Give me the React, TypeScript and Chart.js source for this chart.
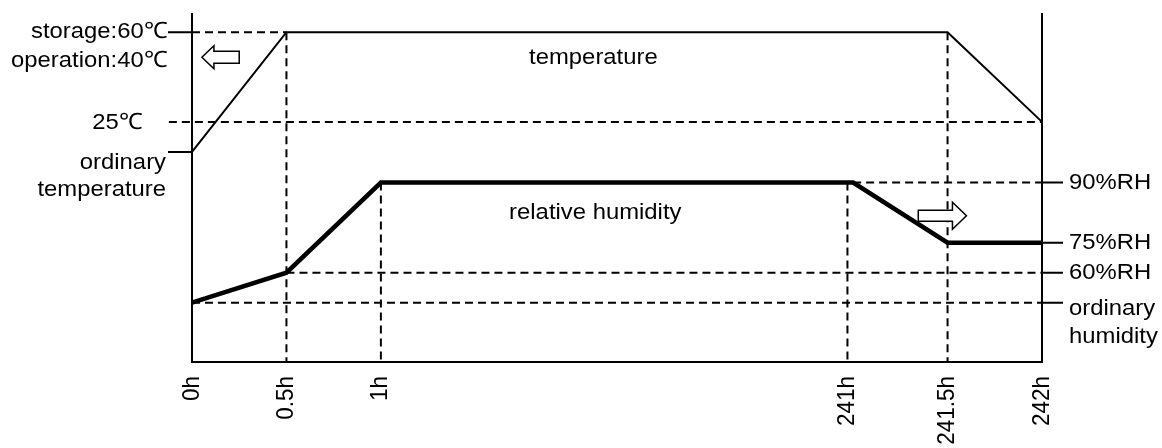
import { useEffect, useRef } from "react";
import { Chart, registerables } from "chart.js";

Chart.register(...registerables);

// ---- data (schematic units: x = time slot, y = relative level 0..100) ----
const timeLabels = ["0h", "0.5h", "1h", "241h", "241.5h", "242h"];
const timeSlots = [0, 1, 2, 6.94, 8, 9];
const temperatureSlots = [0, 1, 2, 7, 8, 9];
const temperatureLevel = [60.2, 94.5, 94.5, 94.5, 94.5, 68.8];
const humiditySlots = [0, 1, 2, 7, 8, 9];
const humidityLevel = [17.0, 25.6, 51.4, 51.4, 34.2, 34.2];

const tempTickValues = [94.5, 68.8, 60.2];
const tempTickLabels = [["storage:60℃", "operation:40℃"], ["25℃"], ["ordinary", "temperature"]];
const humidTickValues = [51.4, 34.2, 25.6, 17.0];
const humidTickLabels = [["90%RH"], ["75%RH"], ["60%RH"], ["ordinary", "humidity"]];

// dashed guides: horizontal [level, fromSlot, toSlot], vertical [slot, fromLevel, toLevel]
const horizontalGuides = [
  [94.5, 0, 1],
  [68.8, -0.245, 9],
  [51.4, 7, 9],
  [25.6, 1, 9],
  [17.0, 0, 9],
];
const verticalGuides = [
  [1, 94.5, 0],
  [2, 51.4, 0],
  [6.94, 51.4, 0],
  [8, 94.5, 0],
];

const FONT = "22.5px 'Liberation Sans', Arial, sans-serif";
const SX = 1.06;

function drawText(ctx: CanvasRenderingContext2D, s: string, x: number, y: number, align: CanvasTextAlign) {
  ctx.save();
  ctx.translate(x, y);
  ctx.scale(SX, 1);
  ctx.textAlign = align;
  ctx.textBaseline = "middle";
  ctx.fillText(s, 0, 0);
  ctx.restore();
}

function drawArrow(ctx: CanvasRenderingContext2D, tail: number, tip: number, cy: number, bodyH: number, headH: number, headL: number) {
  const dir = tip > tail ? 1 : -1;
  const hb = tip - dir * headL;
  ctx.save();
  ctx.beginPath();
  ctx.moveTo(tail, cy - bodyH / 2);
  ctx.lineTo(hb, cy - bodyH / 2);
  ctx.lineTo(hb, cy - headH / 2);
  ctx.lineTo(tip, cy);
  ctx.lineTo(hb, cy + headH / 2);
  ctx.lineTo(hb, cy + bodyH / 2);
  ctx.lineTo(tail, cy + bodyH / 2);
  ctx.closePath();
  ctx.fillStyle = "#ffffff";
  ctx.fill();
  ctx.lineWidth = 1.5;
  ctx.strokeStyle = "#000000";
  ctx.stroke();
  ctx.restore();
}

const decorPlugin = {
  id: "decor",
  afterDatasetsDraw(chart: any) {
    const ctx: CanvasRenderingContext2D = chart.ctx;
    const { left, right, top, bottom } = chart.chartArea;
    const xs = chart.scales.x;
    const ys = chart.scales.y;
    ctx.save();
    ctx.strokeStyle = "#000";
    ctx.fillStyle = "#000";
    ctx.lineWidth = 2;
    ctx.setLineDash([]);
    // axes
    ctx.beginPath();
    ctx.moveTo(left, top);
    ctx.lineTo(left, bottom);
    ctx.lineTo(right, bottom);
    ctx.lineTo(right, top);
    ctx.stroke();
    // solid ticks
    ctx.beginPath();
    [tempTickValues[0], tempTickValues[2]].forEach((v) => {
      const y = ys.getPixelForValue(v);
      ctx.moveTo(left - 24, y);
      ctx.lineTo(left, y);
    });
    humidTickValues.forEach((v) => {
      const y = ys.getPixelForValue(v);
      ctx.moveTo(right, y);
      ctx.lineTo(right + 21, y);
    });
    ctx.stroke();

    ctx.font = FONT;
    // left labels
    const yT0 = ys.getPixelForValue(tempTickValues[0]);
    drawText(ctx, tempTickLabels[0][0], left - 25, yT0, "right");
    drawText(ctx, tempTickLabels[0][1], left - 25, yT0 + 29, "right");
    drawText(ctx, tempTickLabels[1][0], left - 50, ys.getPixelForValue(tempTickValues[1]) + 1, "right");
    const yT2 = ys.getPixelForValue(tempTickValues[2]);
    drawText(ctx, tempTickLabels[2][0], left - 26, yT2 + 11, "right");
    drawText(ctx, tempTickLabels[2][1], left - 26, yT2 + 38, "right");
    // right labels
    humidTickValues.forEach((v, i) => {
      const y = ys.getPixelForValue(v);
      const lines = humidTickLabels[i];
      if (lines.length === 1) drawText(ctx, lines[0], right + 27, y, "left");
      else {
        drawText(ctx, lines[0], right + 27, y + 6, "left");
        drawText(ctx, lines[1], right + 27, y + 34, "left");
      }
    });
    // series names
    drawText(ctx, "temperature", xs.getPixelForValue(4.25), ys.getPixelForValue(87.2), "center");
    drawText(ctx, "relative humidity", xs.getPixelForValue(4.27), ys.getPixelForValue(42.7), "center");
    // x labels (rotated)
    timeSlots.forEach((s, i) => {
      const x = xs.getPixelForValue(s);
      ctx.save();
      ctx.translate(x, bottom + 14);
      ctx.rotate(-Math.PI / 2);
      ctx.scale(1, SX);
      ctx.textAlign = "right";
      ctx.textBaseline = "middle";
      ctx.fillText(timeLabels[i], 0, 0);
      ctx.restore();
    });
    // arrows
    drawArrow(ctx, xs.getPixelForValue(0.5), xs.getPixelForValue(0.105), ys.getPixelForValue(87.3), 12, 23, 12);
    drawArrow(ctx, xs.getPixelForValue(7.69), xs.getPixelForValue(8.2), ys.getPixelForValue(41.9), 11, 27, 14);
    ctx.restore();
  },
};

export default function App() {
  const ref = useRef<HTMLCanvasElement | null>(null);
  useEffect(() => {
    document.body.style.margin = "0";
    if (!ref.current) return;
    const guideStyle = {
      borderColor: "#000",
      borderWidth: 2,
      borderDash: [8, 5],
      pointRadius: 0,
      fill: false,
      tension: 0,
    };
    const datasets: any[] = [];
    horizontalGuides.forEach(([lv, a, b]) => {
      datasets.push({ ...guideStyle, clip: false, data: [{ x: a, y: lv }, { x: b, y: lv }] });
    });
    verticalGuides.forEach(([s, a, b]) => {
      datasets.push({ ...guideStyle, clip: false, data: [{ x: s, y: a }, { x: s, y: b }] });
    });
    datasets.push({
      label: "temperature",
      data: temperatureSlots.map((s, i) => ({ x: s, y: temperatureLevel[i] })),
      borderColor: "#000",
      borderWidth: 2,
      pointRadius: 0,
      fill: false,
      tension: 0,
      clip: false,
    });
    datasets.push({
      label: "relative humidity",
      data: humiditySlots.map((s, i) => ({ x: s, y: humidityLevel[i] })),
      borderColor: "#000",
      borderWidth: 4.5,
      pointRadius: 0,
      fill: false,
      tension: 0,
      clip: false,
    });
    const chart = new Chart(ref.current, {
      type: "line",
      data: { datasets },
      options: {
        animation: false,
        responsive: false,
        devicePixelRatio: 1,
        layout: { padding: { left: 192, right: 120, top: 13, bottom: 86 } },
        plugins: { legend: { display: false }, tooltip: { enabled: false } },
        scales: {
          x: { type: "linear", min: 0, max: 9, display: false },
          y: { type: "linear", min: 0, max: 100, display: false },
        },
      },
      plugins: [decorPlugin],
    });
    return () => chart.destroy();
  }, []);
  return (
    <div style={{ width: 1162, height: 448, background: "#fff" }}>
      <canvas ref={ref} width={1162} height={448} style={{ display: "block" }} />
    </div>
  );
}
